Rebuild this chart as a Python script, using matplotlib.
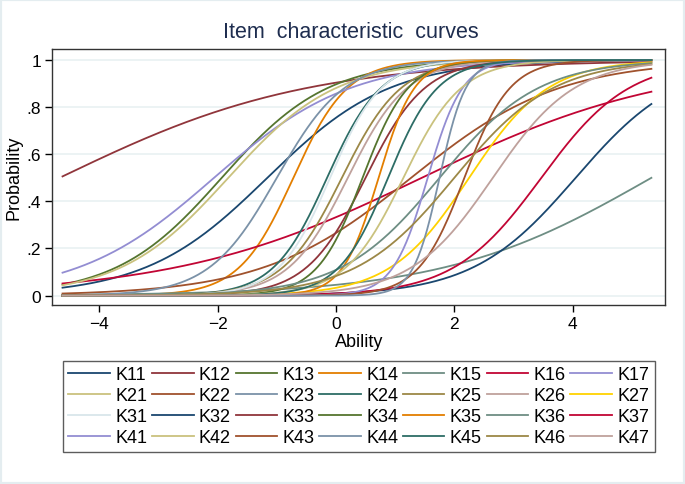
import numpy as np
import matplotlib.pyplot as plt
from matplotlib.patches import Rectangle

plt.rcParams['font.family'] = ['Liberation Sans', 'DejaVu Sans']

# items del modelo 2PL
items = ['K11', 'K12', 'K13', 'K14', 'K15', 'K16', 'K17',
         'K21', 'K22', 'K23', 'K24', 'K25', 'K26', 'K27',
         'K31', 'K32', 'K33', 'K34', 'K35', 'K36', 'K37',
         'K41', 'K42', 'K43', 'K44', 'K45', 'K46', 'K47']
# discriminacion (a) y dificultad (b)
disc = [0.97, 0.48, 1.12, 2.18, 0.57, 0.48, 0.87,
        1.10, 0.80, 1.75, 2.20, 2.00, 2.00, 1.50,
        2.30, 1.15, 2.00, 2.60, 3.30, 1.20, 1.35,
        3.40, 2.05, 2.60, 4.50, 2.40, 1.20, 1.45]
diff = [-1.16, -4.67, -1.93, -0.72, 5.33, 1.45, -2.06,
        -1.82, 1.27, -1.00, -0.15, 0.10, 0.20, 2.25,
        -0.10, 4.05, 0.50, 0.45, 0.72, 1.75, 3.47,
        1.55, 1.14, 2.17, 1.75, 0.88, 2.00, 2.65]
theta_min, theta_max = -4.62, 5.33

# paleta s2color de Stata
s2color = ['#1a476f', '#90353b', '#55752f', '#e37e00', '#6e8e84', '#c10534',
           '#938dd2', '#cac27e', '#a0522d', '#7b92a8', '#2d6d66', '#9c8847',
           '#bfa19c', '#ffd200', '#d9e6eb']
colores = [s2color[i % len(s2color)] for i in range(len(items))]

fig = plt.figure(figsize=(6.85, 4.85), dpi=100, facecolor='white')
fig.patches.append(Rectangle((0, 0), 1, 1, transform=fig.transFigure,
                             facecolor='none', edgecolor='#e4edf0', lw=3))
ax = fig.add_axes([0.0766, 0.369, 0.8942, 0.528])

theta = np.linspace(theta_min, theta_max, 400)
lineas = []
for nombre, a, b, c in zip(items, disc, diff, colores):
    p = 1 / (1 + np.exp(-a * (theta - b)))
    l, = ax.plot(theta, p, color=c, lw=1.3, label=nombre)
    lineas.append(l)

ax.set_xlim(-4.79, 5.56)
ax.set_ylim(-0.040, 1.047)
ax.set_xticks([-4, -2, 0, 2, 4])
ax.set_yticks([0, 0.2, 0.4, 0.6, 0.8, 1])
ax.set_yticklabels(['0', '.2', '.4', '.6', '.8', '1'])
ax.grid(axis='y', color='#eaf2f3', lw=1.3)
ax.set_axisbelow(True)
ax.tick_params(direction='out', length=5, width=1, labelsize=12.5, colors='black', pad=3)
for s in ax.spines.values():
    s.set_color('#333333')
    s.set_linewidth(1)
ax.set_xlabel('Ability', fontsize=13, labelpad=1)
ax.set_ylabel('Probability', fontsize=13, labelpad=3)

fig.text(0.5125, 0.932, 'Item  characteristic  curves', ha='center', va='center',
         fontsize=15.5, color='#1e2d4f')

# leyenda por filas (matplotlib llena por columnas)
nfil, ncol = 4, 7
orden = [r * ncol + c for c in range(ncol) for r in range(nfil)]
leg = fig.legend([lineas[i] for i in orden], [items[i] for i in orden],
                 ncol=ncol, loc='upper center', bbox_to_anchor=(0.5237, 0.2536),
                 frameon=True, fancybox=False, fontsize=13, handlelength=2.3,
                 handletextpad=0.3, columnspacing=0.26, labelspacing=0.22,
                 borderpad=0.3, borderaxespad=0)
leg.get_frame().set_edgecolor('#333333')
leg.get_frame().set_linewidth(1)

plt.savefig('out.png', dpi=100, facecolor='white')
